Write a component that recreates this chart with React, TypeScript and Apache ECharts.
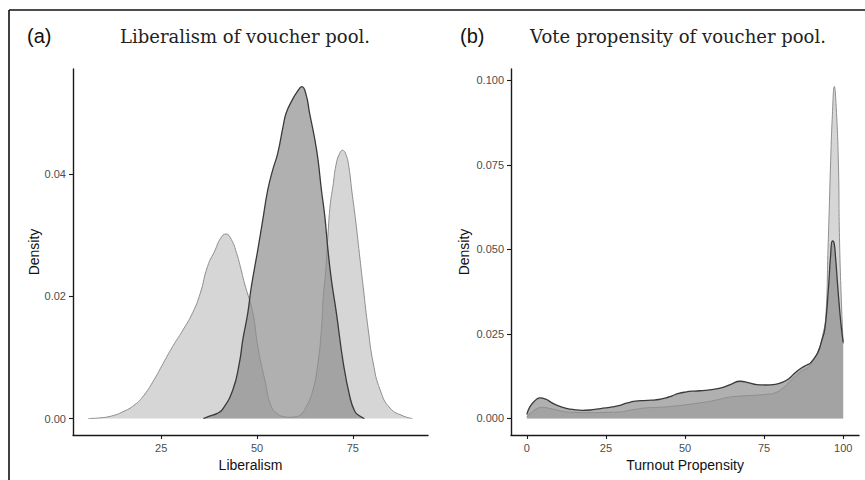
import React, { useEffect, useRef } from "react";
import * as echarts from "echarts";

// Panel (a): Liberalism densities
const libLightX = [6, 9, 12, 15, 18, 20.5, 23.2, 25.5, 28, 30.5, 33.2, 35.2, 37.1, 39.1, 40.5, 41.9, 43.3, 44.7, 45.8, 46.7, 48.9, 50.2, 52.0, 53.7, 55.5, 57, 58.5, 60, 61.1, 62.9, 64.6, 65.9, 66.8, 67.3, 67.9, 68.5, 69.1, 69.8, 70.6, 71.5, 72.3, 73.2, 74.0, 74.7, 75.8, 76.7, 77.7, 79.0, 80.3, 82.1, 84.7, 88.2, 90.5];
const libLightY = [0, 0.0001, 0.0004, 0.0011, 0.0022, 0.0038, 0.0064, 0.009, 0.0118, 0.0143, 0.0173, 0.0205, 0.0249, 0.0276, 0.0295, 0.0302, 0.0293, 0.027, 0.0245, 0.0222, 0.0173, 0.0118, 0.0064, 0.002, 0.0007, 0.0003, 0.0002, 0.0003, 0.0005, 0.002, 0.0047, 0.0091, 0.0146, 0.02, 0.024, 0.03, 0.035, 0.038, 0.0415, 0.0433, 0.0439, 0.0432, 0.041, 0.0374, 0.032, 0.027, 0.0215, 0.0146, 0.0091, 0.0047, 0.0017, 0.0004, 0];
const libDarkX = [36, 37.6, 39.5, 41, 43.7, 45.4, 46.3, 47.6, 48.5, 50.2, 51.5, 52.8, 54.1, 55.4, 56.8, 57.6, 59.0, 60.5, 61.7, 62.8, 63.7, 65.1, 65.9, 66.8, 67.7, 68.5, 69.4, 70.7, 72.5, 74.2, 75.5, 76.8, 78];
const libDarkY = [0, 0.0004, 0.0008, 0.0015, 0.0047, 0.0091, 0.0129, 0.0173, 0.0215, 0.0276, 0.0325, 0.0374, 0.0407, 0.0434, 0.0478, 0.05, 0.0519, 0.0535, 0.0543, 0.053, 0.05, 0.0456, 0.0424, 0.0374, 0.033, 0.0276, 0.0227, 0.0173, 0.0091, 0.0036, 0.0012, 0.0004, 0];

// Panel (b): Turnout propensity densities
const turnLightX = [0, 1.5, 3, 4.9, 7, 9.5, 12, 15, 18, 22, 25, 29, 33, 37.5, 42, 46, 50, 54, 57.5, 60.6, 64, 67.4, 71, 75.3, 78.5, 81, 83.8, 86.5, 89, 91, 92.5, 93.5, 94.5, 95.2, 95.6, 96.0, 96.6, 97.2, 97.8, 98.5, 98.8, 99.3, 100];
const turnLightY = [0.0005, 0.0018, 0.0028, 0.0033, 0.003, 0.0025, 0.002, 0.0018, 0.0017, 0.0017, 0.0018, 0.0019, 0.0025, 0.0031, 0.0033, 0.0036, 0.004, 0.0045, 0.005, 0.0056, 0.0063, 0.0066, 0.0068, 0.0071, 0.0076, 0.009, 0.0115, 0.0138, 0.0152, 0.018, 0.021, 0.0245, 0.03, 0.05, 0.062, 0.075, 0.09, 0.0982, 0.092, 0.075, 0.055, 0.038, 0.022];
const turnDarkX = [0, 1, 2.5, 4.1, 6, 8, 10, 12.5, 15, 17.5, 20, 22.5, 24.9, 27, 29.1, 31.5, 34.3, 37, 39.5, 41.7, 44, 45.9, 48, 50.1, 53, 56.4, 59, 61.7, 64.5, 67.4, 70, 72.7, 75.5, 78.5, 80.5, 82.7, 85, 86.9, 88.5, 89.5, 91, 92.1, 93.2, 94.2, 95.3, 96, 96.6, 97.1, 97.6, 98.2, 98.8, 99.4, 100];
const turnDarkY = [0.0012, 0.0035, 0.0052, 0.0061, 0.0057, 0.0046, 0.0037, 0.003, 0.0026, 0.0024, 0.0025, 0.0028, 0.0031, 0.0034, 0.0038, 0.0045, 0.0051, 0.0053, 0.0054, 0.0056, 0.0061, 0.0067, 0.0074, 0.0078, 0.0081, 0.0083, 0.0086, 0.0091, 0.0101, 0.011, 0.0106, 0.01, 0.0099, 0.0101, 0.0106, 0.0117, 0.0137, 0.015, 0.0158, 0.0163, 0.018, 0.0197, 0.023, 0.0265, 0.038, 0.048, 0.0525, 0.052, 0.0475, 0.04, 0.033, 0.027, 0.0225];

const libTicksX = [25, 50, 75];
const libTicksY = [0, 0.02, 0.04];
const turnTicksX = [0, 25, 50, 75, 100];
const turnTicksY = [0, 0.025, 0.05, 0.075, 0.1];

const zip = (xs: number[], ys: number[]) => xs.map((x, i) => [x, ys[i]]);

const SANS = "Liberation Sans, Arial, sans-serif";
const SERIF = "DejaVu Serif, serif";

const LIGHT_FILL = "rgba(195,195,195,0.68)";
const DARK_FILL = "rgba(139,139,139,0.68)";
const LIGHT_LINE = "#8e8e8e";
const DARK_LINE = "#3a3a3a";

function axisCommon(customTicks: number[], fmt?: (v: number) => string) {
  return {
    axisLine: { show: true, onZero: false, lineStyle: { color: "#1a1a1a", width: 1.4 } },
    axisTick: { show: true, length: 4, customValues: customTicks, lineStyle: { color: "#1a1a1a", width: 1.1 } },
    axisLabel: {
      show: true,
      customValues: customTicks,
      color: "#4d4d4d",
      fontSize: 11,
      fontFamily: SANS,
      margin: 7,
      formatter: fmt ? (v: number) => fmt(v) : undefined,
    },
    splitLine: { show: false },
    nameTextStyle: { color: "#111", fontSize: 14, fontFamily: SANS },
    nameLocation: "middle" as const,
  };
}

function densitySeries(data: number[][], idx: number, fill: string, line: string, lw: number) {
  return {
    type: "line",
    xAxisIndex: idx,
    yAxisIndex: idx,
    data,
    smooth: 0.5,
    showSymbol: false,
    symbol: "none",
    lineStyle: { color: line, width: lw },
    areaStyle: { color: fill, opacity: 1, origin: "auto" },
    silent: true,
  };
}

export default function App() {
  const ref = useRef<HTMLDivElement>(null);
  useEffect(() => {
    if (!ref.current) return;
    const chart = echarts.init(ref.current, undefined, { renderer: "svg" });
    chart.setOption({
      animation: false,
      backgroundColor: "#ffffff",
      grid: [
        { left: 73, top: 69, width: 355, height: 366 },
        { left: 511, top: 69, width: 348, height: 366 },
      ],
      xAxis: [
        {
          type: "value",
          gridIndex: 0,
          min: 2,
          max: 94.6,
          name: "Liberalism",
          nameGap: 21,
          ...axisCommon(libTicksX, (v) => String(v)),
        },
        {
          type: "value",
          gridIndex: 1,
          min: -5,
          max: 105,
          name: "Turnout Propensity",
          nameGap: 21,
          ...axisCommon(turnTicksX, (v) => String(v)),
        },
      ],
      yAxis: [
        {
          type: "value",
          gridIndex: 0,
          min: -0.0027,
          max: 0.0572,
          name: "Density",
          nameGap: 31,
          ...axisCommon(libTicksY, (v) => v.toFixed(2)),
        },
        {
          type: "value",
          gridIndex: 1,
          min: -0.0049,
          max: 0.1034,
          name: "Density",
          nameGap: 40,
          ...axisCommon(turnTicksY, (v) => v.toFixed(3)),
        },
      ],
      series: [
        densitySeries(zip(libLightX, libLightY), 0, LIGHT_FILL, LIGHT_LINE, 1),
        densitySeries(zip(libDarkX, libDarkY), 0, DARK_FILL, DARK_LINE, 1.3),
        densitySeries(zip(turnLightX, turnLightY), 1, LIGHT_FILL, LIGHT_LINE, 1),
        densitySeries(zip(turnDarkX, turnDarkY), 1, DARK_FILL, DARK_LINE, 1.3),
      ],
      graphic: [
        { type: "line", shape: { x1: 9, y1: 10, x2: 9, y2: 480 }, style: { stroke: "#111", lineWidth: 1.6 } },
        { type: "line", shape: { x1: 9, y1: 10, x2: 865, y2: 10 }, style: { stroke: "#111", lineWidth: 1.6 } },
        {
          type: "text",
          x: 27,
          y: 36,
          style: { text: "(a)", font: `20px ${SANS}`, fill: "#111", textAlign: "left", textVerticalAlign: "middle" },
        },
        {
          type: "text",
          x: 460,
          y: 36,
          style: { text: "(b)", font: `20px ${SANS}`, fill: "#111", textAlign: "left", textVerticalAlign: "middle" },
        },
        {
          type: "text",
          x: 245,
          y: 36,
          style: {
            text: "Liberalism of voucher pool.",
            font: `18px ${SERIF}`,
            fill: "#222",
            textAlign: "center",
            textVerticalAlign: "middle",
          },
        },
        {
          type: "text",
          x: 678,
          y: 36,
          style: {
            text: "Vote propensity of voucher pool.",
            font: `18px ${SERIF}`,
            fill: "#222",
            textAlign: "center",
            textVerticalAlign: "middle",
          },
        },
      ],
    });
    return () => chart.dispose();
  }, []);
  return (
    <div
      ref={ref}
      style={{ position: "fixed", left: 0, top: 0, width: 865, height: 480, background: "#fff" }}
    />
  );
}
